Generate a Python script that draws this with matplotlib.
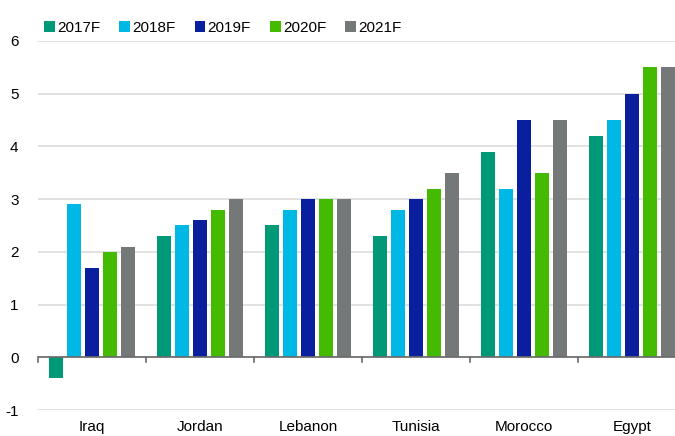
import numpy as np
import matplotlib.pyplot as plt

plt.rcParams['font.family'] = ['Liberation Sans', 'DejaVu Sans']
plt.rcParams['axes.unicode_minus'] = False

countries = ["Iraq", "Jordan", "Lebanon", "Tunisia", "Morocco", "Egypt"]
series = ["2017F", "2018F", "2019F", "2020F", "2021F"]
values = {
    "2017F": [-0.4, 2.3, 2.5, 2.3, 3.9, 4.2],
    "2018F": [2.9, 2.5, 2.8, 2.8, 3.2, 4.5],
    "2019F": [1.7, 2.6, 3.0, 3.0, 4.5, 5.0],
    "2020F": [2.0, 2.8, 3.0, 3.2, 3.5, 5.5],
    "2021F": [2.1, 3.0, 3.0, 3.5, 4.5, 5.5],
}
colors = ["#009977", "#00b8e6", "#0a1f9e", "#44bb00", "#747879"]

fig = plt.figure(figsize=(6.75, 4.36), dpi=100)
ax = fig.add_axes([38 / 675, 26 / 436, 637 / 675, 369 / 436])

x = np.arange(len(countries))
pitch = 0.167
width = 0.13
for i, (s, c) in enumerate(zip(series, colors)):
    ax.bar(x + (i - 2) * pitch, values[s], width, color=c, label=s, zorder=3)

ax.set_xlim(-0.5, 5.4)
ax.set_ylim(-1, 6)
ax.set_yticks(range(-1, 7))
ax.yaxis.grid(True, color="#dcdcdc", linewidth=1.2, zorder=0)
ax.set_axisbelow(True)
for sp in ax.spines.values():
    sp.set_visible(False)
ax.tick_params(axis="y", length=0, pad=14, labelsize=11)
ax.tick_params(axis="x", length=0, labelsize=11, pad=7)
ax.set_xticks(x)
ax.set_xticklabels(countries)

# zero line with category separators
ax.axhline(0, color="#6b6b6b", linewidth=1.2, zorder=4)
for b in np.arange(-0.5, 5.5, 1.0):
    ax.plot([b, b], [0, -0.09], color="#6b6b6b", linewidth=1.2, zorder=4, clip_on=False)

ax.legend(loc="upper left", bbox_to_anchor=(0.0, 1.0 + 26 / 369), ncol=5, frameon=False,
          fontsize=11, handlelength=0.7, handleheight=0.7, handletextpad=0.15,
          columnspacing=1.25, borderaxespad=0)

fig.savefig("out.png", dpi=100)
